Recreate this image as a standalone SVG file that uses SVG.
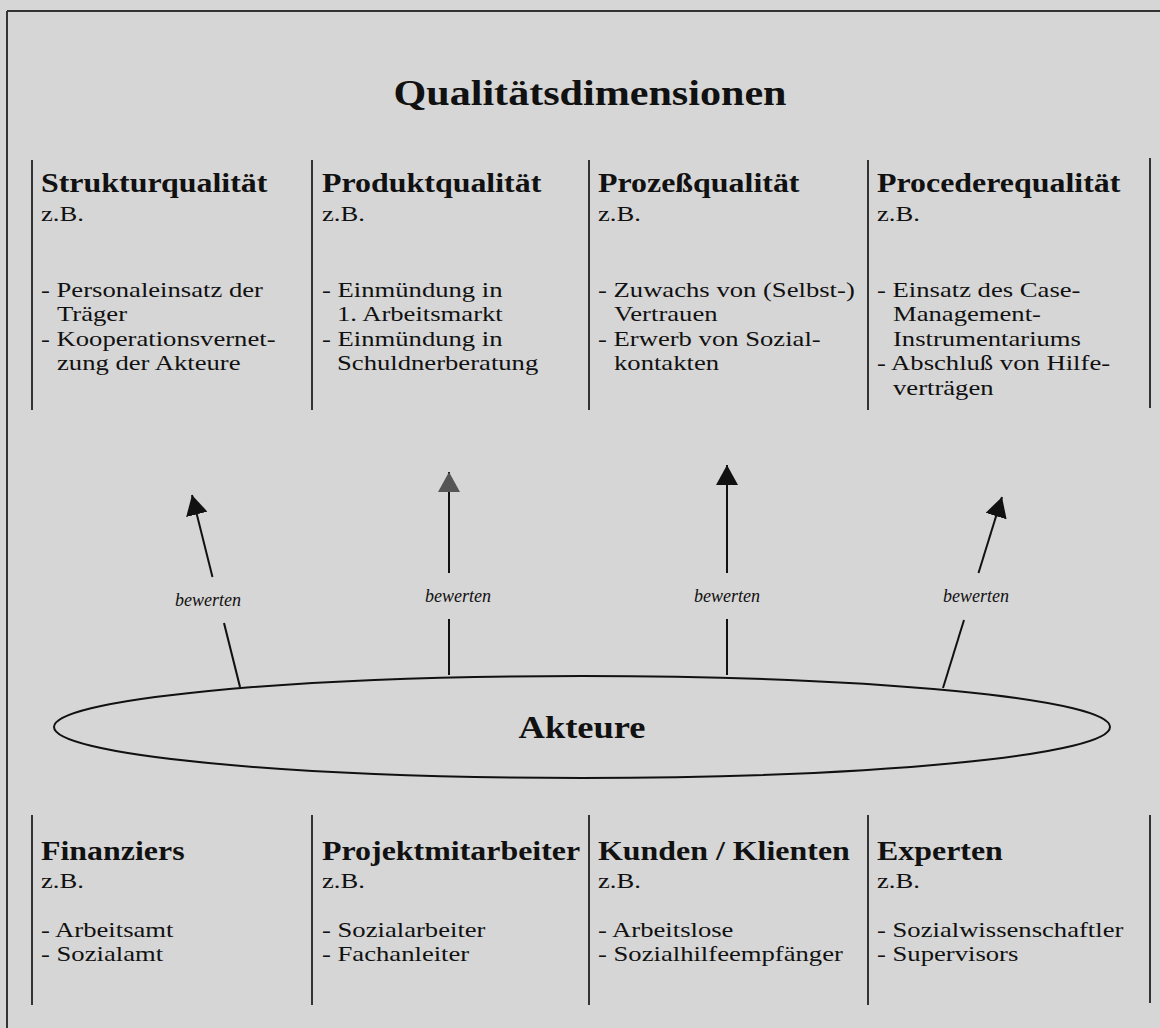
<svg xmlns="http://www.w3.org/2000/svg" width="1160" height="1028" viewBox="0 0 1160 1028">
<defs>
<style>
text{font-family:"Liberation Serif","Times New Roman",serif;fill:#111}
.title{font-size:36px;font-weight:bold}
.hd{font-size:28px;font-weight:bold}
.tx{font-size:21.5px}
.lbl{font-size:18px;font-style:italic}
.ak{font-size:32px;font-weight:bold}
.sep{stroke:#333;stroke-width:2;fill:none}
.con{stroke:#111;stroke-width:2;fill:none}
</style>
<marker id="ah" viewBox="0 0 20 22" refX="20" refY="11" markerWidth="20" markerHeight="22" markerUnits="userSpaceOnUse" orient="auto">
<path d="M0,0 L20,11 L0,22 Z" fill="#111"/>
</marker>
<marker id="ahg" viewBox="0 0 20 22" refX="20" refY="11" markerWidth="20" markerHeight="22" markerUnits="userSpaceOnUse" orient="auto">
<path d="M0,0 L20,11 L0,22 Z" fill="#555"/>
</marker>
</defs>
<rect x="0" y="0" width="1160" height="1028" fill="#d6d6d6"/>
<g id="frame">
<line x1="7" y1="11" x2="1160" y2="11" stroke="#333" stroke-width="2"/>
<line x1="7" y1="11" x2="7" y2="1028" stroke="#333" stroke-width="2"/>
</g>
<text class="title" transform="translate(590 105) scale(1.17 1)" text-anchor="middle">Qualitätsdimensionen</text>
<g id="top-separators">
<line class="sep" x1="32" y1="160" x2="32" y2="410"/>
<line class="sep" x1="312" y1="160" x2="312" y2="410"/>
<line class="sep" x1="589" y1="160" x2="589" y2="410"/>
<line class="sep" x1="868" y1="160" x2="868" y2="410"/>
<line class="sep" x1="1150" y1="158" x2="1150" y2="408"/>
</g>
<g id="strukturqualitaet">
<text class="hd" transform="translate(41 192) scale(1.14 1)">Strukturqualität</text>
<text class="tx" transform="translate(41 221) scale(1.24 1)">z.B.</text>
<text class="tx" transform="translate(41 297) scale(1.24 1)">- Personaleinsatz der</text>
<text class="tx" transform="translate(57 321) scale(1.24 1)">Träger</text>
<text class="tx" transform="translate(41 346) scale(1.24 1)">- Kooperationsvernet-</text>
<text class="tx" transform="translate(57 370) scale(1.24 1)">zung der Akteure</text>
</g>
<g id="produktqualitaet">
<text class="hd" transform="translate(322 192) scale(1.14 1)">Produktqualität</text>
<text class="tx" transform="translate(322 221) scale(1.24 1)">z.B.</text>
<text class="tx" transform="translate(322 297) scale(1.24 1)">- Einmündung in</text>
<text class="tx" transform="translate(337 321) scale(1.24 1)">1. Arbeitsmarkt</text>
<text class="tx" transform="translate(322 346) scale(1.24 1)">- Einmündung in</text>
<text class="tx" transform="translate(337 370) scale(1.24 1)">Schuldnerberatung</text>
</g>
<g id="prozessqualitaet">
<text class="hd" transform="translate(598 192) scale(1.14 1)">Prozeßqualität</text>
<text class="tx" transform="translate(598 221) scale(1.24 1)">z.B.</text>
<text class="tx" transform="translate(598 297) scale(1.24 1)">- Zuwachs von (Selbst-)</text>
<text class="tx" transform="translate(614 321) scale(1.24 1)">Vertrauen</text>
<text class="tx" transform="translate(598 346) scale(1.24 1)">- Erwerb von Sozial-</text>
<text class="tx" transform="translate(614 370) scale(1.24 1)">kontakten</text>
</g>
<g id="procederequalitaet">
<text class="hd" transform="translate(877 192) scale(1.14 1)">Procederequalität</text>
<text class="tx" transform="translate(877 221) scale(1.24 1)">z.B.</text>
<text class="tx" transform="translate(877 297) scale(1.24 1)">- Einsatz des Case-</text>
<text class="tx" transform="translate(893 321) scale(1.24 1)">Management-</text>
<text class="tx" transform="translate(893 346) scale(1.24 1)">Instrumentariums</text>
<text class="tx" transform="translate(877 370) scale(1.24 1)">- Abschluß von Hilfe-</text>
<text class="tx" transform="translate(893 395) scale(1.24 1)">verträgen</text>
</g>
<g id="connectors">
<line class="con" x1="212.5" y1="577" x2="192" y2="495" marker-end="url(#ah)"/>
<line class="con" x1="240" y1="687" x2="224" y2="623"/>
<line class="con" x1="449" y1="573" x2="449" y2="472" stroke="#333" marker-end="url(#ahg)"/>
<line class="con" x1="449" y1="675" x2="449" y2="619"/>
<line class="con" x1="727" y1="573" x2="727" y2="465" marker-end="url(#ah)"/>
<line class="con" x1="727" y1="675" x2="727" y2="619"/>
<line class="con" x1="978.5" y1="573" x2="1002" y2="497" marker-end="url(#ah)"/>
<line class="con" x1="943" y1="688" x2="964" y2="620"/>
<text class="lbl" x="208" y="606" text-anchor="middle">bewerten</text>
<text class="lbl" x="458" y="602" text-anchor="middle">bewerten</text>
<text class="lbl" x="727" y="602" text-anchor="middle">bewerten</text>
<text class="lbl" x="976" y="602" text-anchor="middle">bewerten</text>
</g>
<g id="akteure">
<ellipse cx="582" cy="727" rx="528" ry="51" fill="none" stroke="#111" stroke-width="2"/>
<text class="ak" transform="translate(582 738) scale(1.14 1)" text-anchor="middle">Akteure</text>
</g>
<g id="bottom-separators">
<line class="sep" x1="32" y1="815" x2="32" y2="1005"/>
<line class="sep" x1="312" y1="815" x2="312" y2="1005"/>
<line class="sep" x1="589" y1="815" x2="589" y2="1005"/>
<line class="sep" x1="868" y1="815" x2="868" y2="1005"/>
<line class="sep" x1="1150" y1="815" x2="1150" y2="1003"/>
</g>
<g id="finanziers">
<text class="hd" transform="translate(41 860) scale(1.14 1)">Finanziers</text>
<text class="tx" transform="translate(41 888) scale(1.24 1)">z.B.</text>
<text class="tx" transform="translate(41 937) scale(1.24 1)">- Arbeitsamt</text>
<text class="tx" transform="translate(41 961) scale(1.24 1)">- Sozialamt</text>
</g>
<g id="projektmitarbeiter">
<text class="hd" transform="translate(322 860) scale(1.14 1)">Projektmitarbeiter</text>
<text class="tx" transform="translate(322 888) scale(1.24 1)">z.B.</text>
<text class="tx" transform="translate(322 937) scale(1.24 1)">- Sozialarbeiter</text>
<text class="tx" transform="translate(322 961) scale(1.24 1)">- Fachanleiter</text>
</g>
<g id="kunden">
<text class="hd" transform="translate(598 860) scale(1.14 1)">Kunden / Klienten</text>
<text class="tx" transform="translate(598 888) scale(1.24 1)">z.B.</text>
<text class="tx" transform="translate(598 937) scale(1.24 1)">- Arbeitslose</text>
<text class="tx" transform="translate(598 961) scale(1.24 1)">- Sozialhilfeempfänger</text>
</g>
<g id="experten">
<text class="hd" transform="translate(877 860) scale(1.14 1)">Experten</text>
<text class="tx" transform="translate(877 888) scale(1.24 1)">z.B.</text>
<text class="tx" transform="translate(877 937) scale(1.24 1)">- Sozialwissenschaftler</text>
<text class="tx" transform="translate(877 961) scale(1.24 1)">- Supervisors</text>
</g>
</svg>
